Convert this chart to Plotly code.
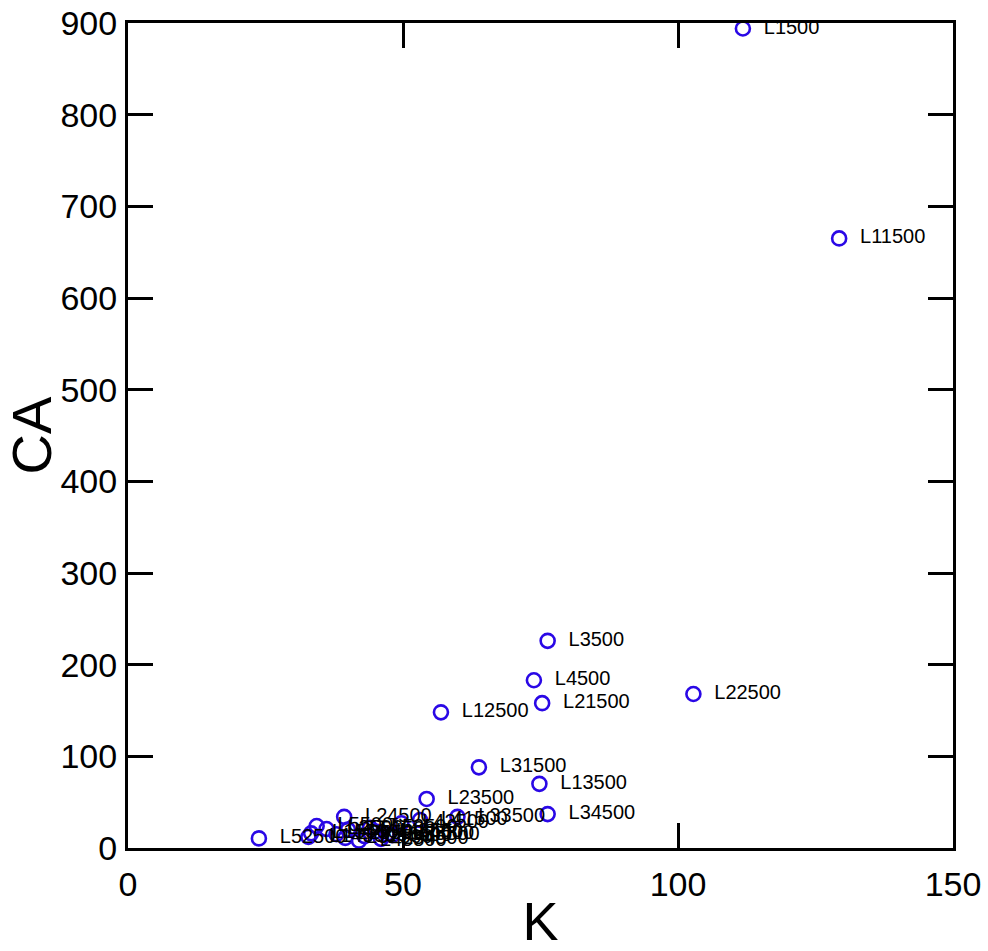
import plotly.graph_objects as go

# Data
names = [
    "L1500", "L3500", "L4500", "L11500", "L12500", "L13500",
    "L21500", "L22500", "L23500", "L24500", "L31500", "L33500",
    "L34500", "L52500",
    "L41500", "L42500", "L5500", "L2500", "L14500", "L15500",
    "L25500", "L32500", "L35500", "L43500", "L44500", "L45500",
    "L51500", "L53500", "L54500", "L55500",
]
k_values = [
    111.8, 76.3, 73.8, 129.3, 56.9, 74.8,
    75.3, 102.8, 54.3, 39.3, 63.8, 59.9,
    76.3, 23.8,
    53.1, 49.7, 34.3, 36.1, 32.8, 33.3,
    37.9, 39.5, 43.0, 45.0, 47.0, 42.0,
    40.0, 44.0, 46.0, 48.0,
]
ca_values = [
    894, 226, 183, 665, 148, 70,
    158, 168, 53.5, 34, 88, 34,
    37, 10.5,
    30.5, 27, 24, 20.7, 12, 16,
    15, 11, 13, 18, 15, 8,
    20, 22, 10, 14,
]
x_ticks = [0, 50, 100, 150]
y_ticks = [0, 100, 200, 300, 400, 500, 600, 700, 800, 900]

FONT = "Liberation Sans, Arial, sans-serif"

fig = go.Figure(
    go.Scatter(
        x=k_values,
        y=ca_values,
        mode="markers+text",
        text=names,
        texttemplate="\u00a0\u00a0%{text}",
        textposition="middle right",
        textfont=dict(family=FONT, size=20, color="black"),
        marker=dict(
            symbol="circle-open",
            size=14,
            color="#2a08e6",
            line=dict(width=2.6, color="#2a08e6"),
        ),
        cliponaxis=False,
        showlegend=False,
    )
)

axis_common = dict(
    showgrid=False,
    zeroline=False,
    showline=True,
    linecolor="black",
    linewidth=3,
    mirror="ticks",
    ticks="inside",
    ticklen=25,
    tickwidth=2.5,
    tickcolor="black",
    automargin=False,
    tickfont=dict(family=FONT, size=34, color="black"),
)

fig.update_layout(
    width=988,
    height=951,
    margin=dict(l=128, r=35, t=23, b=103),
    paper_bgcolor="white",
    plot_bgcolor="white",
    xaxis=dict(
        range=[0, 150],
        tickvals=x_ticks,
        ticktext=[str(v) for v in x_ticks],
        title=dict(text="K", font=dict(family=FONT, size=54, color="black"), standoff=4),
        ticklabelstandoff=4,
        **axis_common,
    ),
    yaxis=dict(
        range=[0, 900],
        tickvals=y_ticks,
        ticktext=[str(v) for v in y_ticks],
        title=dict(text="CA", font=dict(family=FONT, size=56, color="black"), standoff=10),
        ticklabelstandoff=1,
        **axis_common,
    ),
)

fig.write_html("out.html")
